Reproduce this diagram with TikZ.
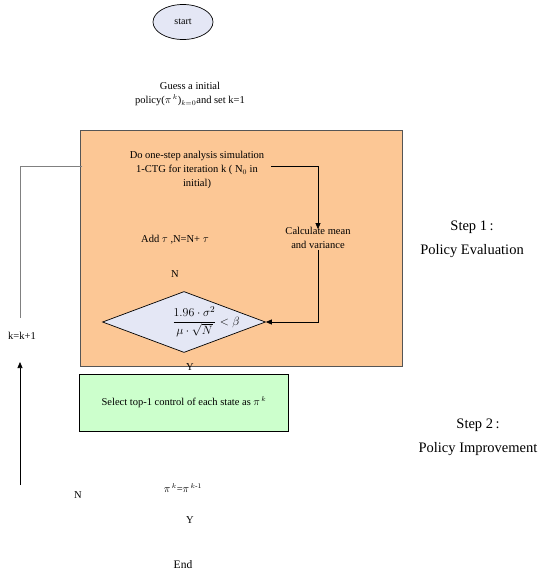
\documentclass[tikz,border=0pt]{standalone}
\usepackage{amsmath}
\usepackage{fontspec}
\setmainfont{Liberation Serif}
\usetikzlibrary{shapes.geometric,arrows.meta}
\definecolor{peach}{HTML}{FCC795}
\definecolor{mint}{HTML}{CCFFCC}
\definecolor{lav}{HTML}{E4E7F5}
\definecolor{edgegrey}{HTML}{555555}
\tikzset{
  lbl/.style={inner sep=0pt, font=\fontsize{10.5}{14}\selectfont, align=center},
  steplbl/.style={inner sep=0pt, font=\fontsize{14.5}{24}\selectfont, align=center},
  arr/.style={-{Triangle[length=6pt,width=5pt]}, line width=0.7pt},
  plain/.style={line width=0.7pt}
}
\begin{document}
\begin{tikzpicture}[x=1pt,y=-1pt]
\useasboundingbox (0,0) rectangle (541,576);
% regions
\node[draw=edgegrey, line width=1pt, fill=peach, minimum width=322pt, minimum height=236pt, inner sep=0pt, anchor=north west] (eval) at (80,130) {};
\node[draw=black, line width=0.8pt, fill=mint, minimum width=209pt, minimum height=57pt, inner sep=0pt, anchor=north west] (impr) at (79,374) {};
\node[lbl] (sel) at (184,402) {Select top-1 control of each state as $\pi^{\,k}$};
% start
\node[ellipse, draw, fill=lav, line width=0.7pt, minimum width=60pt, minimum height=35pt, inner sep=0pt, font=\fontsize{10}{12}\selectfont] (start) at (183,22) {start};
\node[lbl] (guess) at (190,94) {Guess a initial\\policy($\pi^{\,k}$)$_{k=0}$and set k=1};
% evaluation contents
\node[lbl] (sim) at (197,170) {Do one-step analysis simulation\\1-CTG for iteration k ( N$_0$ in\\initial)};
\coordinate (simend) at (271,166);
\node[lbl] (calc) at (318,238) {Calculate mean\\and variance};
\node[lbl] (add) at (175,240) {Add $\tau$ ,N=N+ $\tau$};
\node[lbl] (nlbl) at (175,274) {N};
\node[diamond, draw, fill=lav, line width=0.7pt, aspect=2.67, minimum width=163pt, minimum height=61pt, inner sep=0pt] (dia) at (184,322) {};
\node[inner sep=0pt, font=\fontsize{12.5}{15}\selectfont] (cond) at (206,322) {$\displaystyle\frac{1.96\cdot\sigma^2}{\mu\cdot\sqrt{N}}<\beta$};
\node[lbl] (ylbl) at (190,367) {Y};
% lower texts
\node[lbl] (conv) at (183,488) {$\pi^{\,k}$=$\pi^{\,k\text{-}1}$};
\node[lbl] (n2) at (78,495) {N};
\node[lbl] (y2) at (190,520) {Y};
\node[lbl, font=\fontsize{11.5}{14}\selectfont] (end) at (183,565) {End};
% loop
\node[lbl] (inc) at (22,336) {k=k+1};
\coordinate (loopA) at (82,166);
\coordinate (loopB) at (20,166);
\coordinate (loopC) at (20,318);
\coordinate (loopD) at (20,485);
\coordinate (loopE) at (20,362);
% step labels
\node[steplbl] (s1) at (472,239) {Step 1\,:\\Policy Evaluation};
\node[steplbl] (s2) at (478,437) {Step 2\,:\\Policy Improvement};
% connectors
\draw[arr] (simend) -| ([yshift=-2pt]calc.north);
\draw[arr] ([yshift=-1pt]calc.south) |- (dia.east);
\draw[plain, draw=gray] (loopA) -- (loopB) -- (loopC);
\draw[arr] (loopD) -- (loopE);
\end{tikzpicture}
\end{document}
